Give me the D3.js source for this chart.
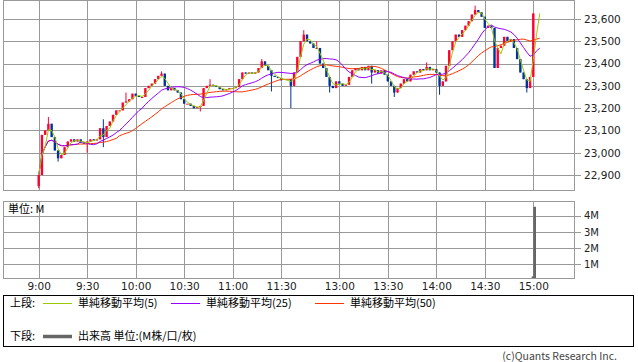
<!DOCTYPE html>
<html>
<head>
<meta charset="utf-8">
<script src="https://cdn.jsdelivr.net/npm/d3@7"></script>
<style>
body { margin: 0; background: #fff; }
svg { display: block; font-family: "DejaVu Sans", Verdana, sans-serif; }
.jp { font-family: "Noto Sans CJK JP", sans-serif; }
.axis path { display: none; }
</style>
</head>
<body>
<div id="chart"></div>
<script>
// Axis labels
var timeTicks = ["9:00", "9:30", "10:00", "10:30", "11:00", "11:30", "13:00", "13:30", "14:00", "14:30", "15:00"];
var priceTicks = [22900, 23000, 23100, 23200, 23300, 23400, 23500, 23600];
var volumeTicks = [1, 2, 3, 4];

// 2-minute candles, open = previous close
var amStart = "9:00";
var pmStart = "12:30";
var amOpen = 22850;
var pmOpen = 23330;
var amClose = [22900, 23080, 23100, 23130, 23070, 23010, 22975, 22990, 23025, 23050,
               23060, 23050, 23060, 23045, 23040, 23050, 23060, 23055, 23060, 23110,
               23070, 23120, 23140, 23170, 23190, 23190, 23225, 23230, 23240, 23265,
               23255, 23250, 23250, 23290, 23300, 23310, 23330, 23345, 23355, 23300,
               23280, 23290, 23280, 23270, 23240, 23220, 23220, 23210, 23200, 23205,
               23210, 23290, 23300, 23305, 23300, 23295, 23285, 23280, 23285, 23290,
               23290, 23295, 23330, 23360, 23355, 23360, 23355, 23360, 23380, 23410,
               23390, 23370, 23345, 23340, 23335, 23325];
var pmClose = [23300, 23360, 23430, 23500, 23530, 23500, 23490, 23470, 23470, 23400,
               23380, 23340, 23300, 23290, 23320, 23310, 23300, 23305, 23340, 23370,
               23380, 23370, 23385, 23370, 23390, 23360, 23370, 23355, 23370, 23350,
               23320, 23300, 23270, 23290, 23310, 23330, 23320, 23350, 23365, 23360,
               23375, 23370, 23385, 23370, 23375, 23360, 23300, 23320, 23390, 23460,
               23500, 23530, 23520, 23550, 23570, 23590, 23620, 23640, 23630, 23610,
               23560, 23570, 23560, 23380, 23470, 23480, 23520, 23500, 23510, 23470,
               23420, 23360, 23330, 23290, 23340, 23625];

// wicks that stick out past the body
var wickTimes = ["9:00", "9:06", "9:12", "9:30", "9:40", "9:54", "10:16", "10:40", "10:46", "11:18", "11:24",
                 "12:30", "12:38", "12:46", "12:54", "13:20", "13:34", "13:54", "14:02", "14:24", "14:56"];
var wickHighs = [null, 23160, null, null, 23150, 23270, 23365, null, 23330, 23420, null,
                 null, 23550, 23500, null, null, null, 23405, null, 23660, null];
var wickLows = [22840, null, 22960, 23000, 23025, null, null, 23185, null, null, 23275,
                23200, null, null, 23270, 23310, 23250, null, 23260, null, 23270];

// the averages run on a little past the close
var closeAfter = [23625, 23625];

// volume (M)
var volTimes = ["14:59", "15:00"];
var volValues = [0.25, 4.55];

var maLengths = [5, 25, 50];
var maColors = ["#99cc00", "#9900ff", "#ff3300"];
var upColor = "#ff0033";
var downColor = "#003399";

// minutes -> slot on the x axis (lunch squeezed down)
function toMin(t) {
    var p = t.split(":");
    return +p[0] * 60 + +p[1];
}
function slot(t) {
    var m = typeof t == "string" ? toMin(t) : t;
    return m <= 690 ? m - 540 : m - 750 + 156;
}
function fmt(m) {
    return Math.floor(m / 60) + ":" + String(m % 60).padStart(2, "0");
}

var width = 638, height = 362;
var plot = {left: 3, right: 574, top: 0, bottom: 190};
var vol = {top: 201, bottom: 278};

var svg = d3.select("#chart").append("svg")
    .attr("width", width)
    .attr("height", height);

var x = d3.scaleLinear()
    .domain([slot("9:00"), slot("15:00")])
    .range([38.7, 533.3]);
var y = d3.scaleLinear()
    .domain([22900, 23600])
    .range([175, 19]);
var yv = d3.scaleLinear()
    .domain([0, 4])
    .range([280.5, 215.7]);

// build the candles
var candles = [];
function addSession(start, open, closes) {
    var m0 = toMin(start);
    var prev = open;
    closes.forEach(function (c, i) {
        var t = fmt(m0 + i * 2);
        var k = wickTimes.indexOf(t);
        var hi = Math.max(prev, c), lo = Math.min(prev, c);
        if (k >= 0 && wickHighs[k] != null) hi = wickHighs[k];
        if (k >= 0 && wickLows[k] != null) lo = wickLows[k];
        candles.push({s: slot(t), o: prev, h: hi, l: lo, c: c});
        prev = c;
    });
}
addSession(amStart, amOpen, amClose);
addSession(pmStart, pmOpen, pmClose);

// moving averages on the closes
var series = candles.map(function (d) { return {s: d.s, c: d.c}; });
closeAfter.forEach(function (c, i) {
    series.push({s: slot("15:00") + 2 * (i + 1), c: c});
});
var maLines = maLengths.map(function (len) {
    var n = Math.round(len / 2);
    return series.map(function (d, i) {
        var part = series.slice(Math.max(0, i - n + 1), i + 1);
        return {s: d.s, v: d3.mean(part, function (p) { return p.c; })};
    });
});

// gridlines
function grid(top, bottom, levels, scale) {
    var g = svg.append("g").attr("shape-rendering", "crispEdges");
    g.selectAll(".v").data(timeTicks).enter().append("line")
        .attr("x1", function (d) { return Math.round(x(slot(d))) + 0.5; })
        .attr("x2", function (d) { return Math.round(x(slot(d))) + 0.5; })
        .attr("y1", top).attr("y2", bottom)
        .attr("stroke", "#999");
    g.selectAll(".h").data(levels).enter().append("line")
        .attr("x1", plot.left).attr("x2", plot.right + 7)
        .attr("y1", function (d) { return Math.round(scale(d)) + 0.5; })
        .attr("y2", function (d) { return Math.round(scale(d)) + 0.5; })
        .attr("stroke", "#999");
    g.append("rect")
        .attr("x", plot.left + 0.5).attr("y", top + 0.5)
        .attr("width", plot.right - plot.left).attr("height", bottom - top)
        .attr("fill", "none").attr("stroke", "#999");
}
grid(plot.top, plot.bottom, priceTicks, y);
grid(vol.top, vol.bottom, volumeTicks, yv);

svg.append("clipPath").attr("id", "pc").append("rect")
    .attr("x", plot.left).attr("y", plot.top)
    .attr("width", plot.right - plot.left).attr("height", plot.bottom - plot.top);

var chart = svg.append("g").attr("clip-path", "url(#pc)");

// candles
chart.selectAll(".wick").data(candles).enter().append("line")
    .attr("x1", function (d) { return x(d.s); })
    .attr("x2", function (d) { return x(d.s); })
    .attr("y1", function (d) { return y(d.h); })
    .attr("y2", function (d) { return y(d.l); })
    .attr("stroke", function (d) { return d.c >= d.o ? upColor : downColor; })
    .attr("stroke-width", 1);

chart.selectAll(".body").data(candles).enter().append("rect")
    .attr("x", function (d) { return x(d.s) - 1.2; })
    .attr("y", function (d) { return y(Math.max(d.o, d.c)); })
    .attr("width", 2.4)
    .attr("height", function (d) { return Math.max(1, Math.abs(y(d.o) - y(d.c))); })
    .attr("fill", function (d) { return d.c >= d.o ? upColor : downColor; });

// averages (long one first, short one on top)
var line = d3.line()
    .x(function (d) { return x(d.s); })
    .y(function (d) { return y(d.v); });
[2, 1, 0].forEach(function (i) {
    chart.append("path")
        .attr("d", line(maLines[i]))
        .attr("fill", "none")
        .attr("stroke", maColors[i])
        .attr("stroke-width", 1);
});

// volume
svg.selectAll(".vol").data(volValues).enter().append("rect")
    .attr("x", function (d, i) { return x(slot(volTimes[i])); })
    .attr("y", function (d) { return yv(d); })
    .attr("width", 2.7)
    .attr("height", function (d) { return vol.bottom - yv(d); })
    .attr("fill", "#666");

svg.append("text").attr("class", "jp")
    .attr("x", 8).attr("y", 213)
    .attr("font-size", 11)
    .text("単位: M");

// axes
svg.append("g").attr("class", "axis")
    .attr("transform", "translate(" + plot.right + ",0)")
    .call(d3.axisRight(y).tickValues(priceTicks).tickSize(0).tickPadding(10)
        .tickFormat(d3.format(",")))
    .selectAll("text").attr("font-size", 10.5).attr("fill", "#222")
    .attr("font-family", "DejaVu Sans, sans-serif");

svg.append("g").attr("class", "axis")
    .attr("transform", "translate(" + plot.right + ",0)")
    .call(d3.axisRight(yv).tickValues(volumeTicks).tickSize(0).tickPadding(10)
        .tickFormat(function (d) { return d + "M"; }))
    .selectAll("text").attr("font-size", 10).attr("fill", "#222")
    .attr("font-family", "DejaVu Sans, sans-serif");

svg.append("g").attr("class", "axis")
    .attr("transform", "translate(0," + vol.bottom + ")")
    .call(d3.axisBottom(x).tickValues(timeTicks.map(slot)).tickSize(0).tickPadding(5)
        .tickFormat(function (d, i) { return timeTicks[i]; }))
    .selectAll("text").attr("font-size", 10.5).attr("fill", "#222")
    .attr("font-family", "DejaVu Sans, sans-serif");

// legend
var legend = svg.append("g").attr("class", "jp").attr("font-size", 11);
legend.append("rect")
    .attr("x", 3.5).attr("y", 295.5).attr("width", 630).attr("height", 51)
    .attr("fill", "none").attr("stroke", "#000");
legend.append("text").attr("x", 10).attr("y", 307).text("上段:");
var legX = [43, 171, 315];
maLengths.forEach(function (len, i) {
    legend.append("line")
        .attr("x1", legX[i]).attr("x2", legX[i] + 29)
        .attr("y1", 303.5).attr("y2", 303.5)
        .attr("stroke", maColors[i]);
    legend.append("text")
        .attr("x", legX[i] + 35).attr("y", 307)
        .text("単純移動平均(" + len + ")");
});
legend.append("text").attr("x", 10).attr("y", 340).text("下段:");
legend.append("line")
    .attr("x1", 43).attr("x2", 72).attr("y1", 336.5).attr("y2", 336.5)
    .attr("stroke", "#666").attr("stroke-width", 3.5);
legend.append("text").attr("x", 78).attr("y", 340).text("出来高 単位:(M株/口/枚)");

svg.append("text").attr("class", "jp")
    .attr("x", 617).attr("y", 360)
    .attr("text-anchor", "end")
    .attr("font-size", 10.5).attr("fill", "#444")
    .text("(c)Quants Research Inc.");
</script>
</body>
</html>
